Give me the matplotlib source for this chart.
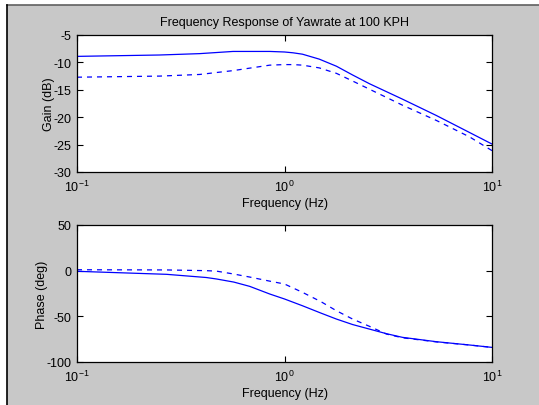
import matplotlib
matplotlib.use("Agg")
import matplotlib.pyplot as plt
from matplotlib.patches import Rectangle
from matplotlib.lines import Line2D
import numpy as np

plt.rcParams['font.family'] = ['Liberation Sans', 'DejaVu Sans']
plt.rcParams['axes.unicode_minus'] = False

# Gain data (dB)
gain_freq = [0.1, 0.25, 0.39, 0.565, 0.85, 1.0, 1.1, 1.22, 1.47, 1.78, 2.13, 2.57, 3.7, 5.4, 7.8, 10.0]
gain_solid = [-8.9, -8.65, -8.4, -8.0, -8.0, -8.1, -8.25, -8.5, -9.4, -10.7, -12.3, -13.9, -16.7, -19.7, -22.8, -24.9]
gain_dashed = [-12.7, -12.5, -12.2, -11.5, -10.5, -10.4, -10.4, -10.5, -11.0, -12.0, -13.4, -14.9, -17.8, -20.6, -23.6, -26.1]

# Phase data (deg)
phase_freq = [0.1, 0.27, 0.42, 0.47, 0.57, 0.68, 0.85, 1.0, 1.22, 1.5, 1.78, 2.13, 2.57, 3.1, 3.7, 5.4, 7.8, 10.0]
phase_solid = [-0.7, -4.0, -7.5, -9.1, -12.5, -17.2, -25.6, -31.0, -38.4, -46.5, -53.0, -59.0, -64.0, -69.0, -73.0, -77.8, -81.4, -84.0]
phase_dashed = [1.0, 0.8, 0.0, -0.5, -3.7, -7.0, -11.5, -14.6, -23.7, -34.0, -43.9, -53.0, -61.0, -69.4, -73.5, -78.0, -81.4, -84.0]

gain_ticks = [-30, -25, -20, -15, -10, -5]
phase_ticks = [-100, -50, 0, 50]
title_text = "Frequency Response of Yawrate at 100 KPH"

W, H = 539, 406
fig = plt.figure(figsize=(W / 100, H / 100), dpi=100)
fig.patch.set_facecolor('white')
# window background + border
fig.add_artist(Rectangle((7 / W, 0), 1, 1 - 6 / H, transform=fig.transFigure,
                         facecolor='#c8c8c8', edgecolor='none', zorder=-10))
fig.add_artist(Line2D([7 / W, 1], [1 - 6 / H, 1 - 6 / H], transform=fig.transFigure,
                      color='#606060', lw=1.2))
fig.add_artist(Line2D([7 / W, 7 / W], [0, 1 - 6 / H], transform=fig.transFigure,
                      color='black', lw=1.2))

left = 77 / W
width = (492 - 77) / W
ax1 = fig.add_axes([left, 1 - 173 / H, width, 137 / H])
ax2 = fig.add_axes([left, 1 - 363 / H, width, 137 / H])

col = '#0000ff'
ax1.semilogx(gain_freq, gain_solid, '-', color=col, lw=0.9)
ax1.semilogx(gain_freq, gain_dashed, '--', color=col, lw=0.9, dashes=(4, 4))
ax2.semilogx(phase_freq, phase_solid, '-', color=col, lw=0.9)
ax2.semilogx(phase_freq, phase_dashed, '--', color=col, lw=0.9, dashes=(4, 4))

for ax, yt, ylim, ylab, lp in [(ax1, gain_ticks, (-30, -5), 'Gain (dB)', -1),
                               (ax2, phase_ticks, (-100, 50), 'Phase (deg)', -1)]:
    ax.set_xlim(0.1, 10)
    ax.set_ylim(*ylim)
    ax.set_yticks(yt)
    ax.set_xticks([0.1, 1, 10])
    ax.xaxis.set_minor_locator(matplotlib.ticker.NullLocator())
    ax.tick_params(direction='in', length=4, width=0.8, top=True, right=True,
                   labelsize=9, pad=4, colors='black')
    ax.tick_params(axis='x', pad=5)
    ax.set_xlabel('Frequency (Hz)', fontsize=9, labelpad=2)
    ax.set_ylabel(ylab, fontsize=9, labelpad=lp)
    for s in ax.spines.values():
        s.set_linewidth(0.9)
    ax.set_facecolor('white')

ax1.set_title(title_text, fontsize=9, pad=7)

fig.savefig('out.png', dpi=100, facecolor=fig.get_facecolor())
